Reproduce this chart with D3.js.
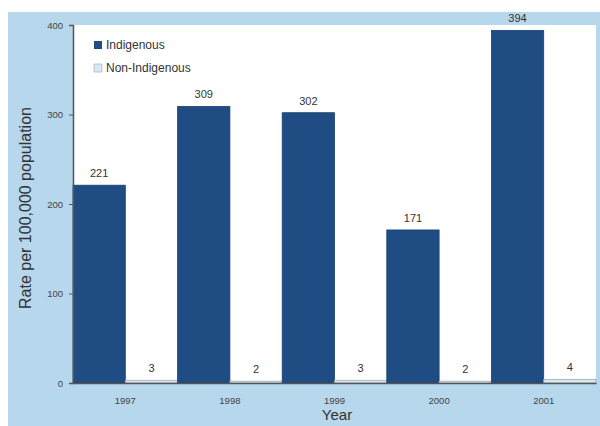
<!DOCTYPE html>
<html><head><meta charset="utf-8">
<script src="https://cdn.jsdelivr.net/npm/d3@7"></script>
<style>body{margin:0;background:#fff}svg{display:block}</style>
</head><body>
<script>
const years = ["1997","1998","1999","2000","2001"];
const seriesNames = ["Indigenous","Non-Indigenous"];
const indigenous = [221,309,302,171,394];
const nonIndigenous = [3,2,3,2,4];
const yTicks = [0,100,200,300,400];

const W=600,H=426;
const svg=d3.select("body").append("svg").attr("width",W).attr("height",H);
svg.append("rect").attr("x",8).attr("y",12).attr("width",592).attr("height",414).attr("fill","#b6d7ec");
const m={l:73,t:25,r:596,b:383};
svg.append("rect").attr("x",m.l).attr("y",m.t).attr("width",m.r-m.l).attr("height",m.b-m.t).attr("fill","#ffffff");

const x=d3.scaleBand().domain(years).range([m.l,m.r]).padding(0);
const xs=d3.scaleBand().domain(seriesNames).range([0,x.bandwidth()]).padding(0);
const y=d3.scaleLinear().domain([0,400]).range([m.b,m.t]);
const colors={"Indigenous":"#1f4c82","Non-Indigenous":"#d6e8f2"};

const data=years.map((yr,i)=>({yr,vals:[{s:"Indigenous",v:indigenous[i]},{s:"Non-Indigenous",v:nonIndigenous[i]}]}));
const g=svg.append("g");
const grp=g.selectAll("g").data(data).join("g").attr("transform",d=>`translate(${x(d.yr)},0)`);
grp.selectAll("rect").data(d=>d.vals).join("rect")
  .attr("x",d=>xs(d.s)).attr("width",xs.bandwidth())
  .attr("y",d=>y(d.v)).attr("height",d=>y(0)-y(d.v))
  .attr("fill",d=>colors[d.s]).attr("stroke",d=>d.s==="Indigenous"?"#1a416f":"#9aa9b5").attr("stroke-width",0.8);
grp.selectAll("text").data(d=>d.vals).join("text")
  .attr("x",d=>xs(d.s)+xs.bandwidth()/2)
  .attr("y",d=>d.s==="Indigenous"?y(d.v)-8:y(d.v)-8)
  .attr("text-anchor","middle").attr("font-family","Liberation Sans, Arial, sans-serif")
  .attr("font-size",11).attr("fill","#333").text(d=>d.v);

// axes
const ya=svg.append("g").attr("transform",`translate(${m.l},0)`)
  .call(d3.axisLeft(y).tickValues(yTicks).tickSize(4).tickPadding(6));
ya.select(".domain").attr("stroke","#555").attr("stroke-width",1.5);
ya.selectAll(".tick line").attr("stroke","#555");
ya.selectAll("text").attr("font-family","Liberation Sans, Arial, sans-serif").attr("font-size",9.5).attr("fill","#444");
const xa=svg.append("g").attr("transform",`translate(0,${m.b})`)
  .call(d3.axisBottom(x).tickSize(0).tickPadding(14));
xa.select(".domain").attr("stroke","#555").attr("stroke-width",1.5);
xa.selectAll("text").attr("font-family","Liberation Sans, Arial, sans-serif").attr("font-size",9.5).attr("fill","#444");
svg.append("text").attr("x",337).attr("y",420).attr("text-anchor","middle")
  .attr("font-family","Liberation Sans, Arial, sans-serif").attr("font-size",15).attr("fill","#333").text("Year");
svg.append("text").attr("transform","translate(31,208) rotate(-90)").attr("text-anchor","middle")
  .attr("font-family","Liberation Sans, Arial, sans-serif").attr("font-size",16).attr("fill","#333").text("Rate per 100,000 population");

// legend
const lg=svg.append("g");
seriesNames.forEach((s,i)=>{
  lg.append("rect").attr("x",94).attr("y",41+i*23).attr("width",8).attr("height",8)
    .attr("fill",colors[s]).attr("stroke",i?"#9aa9b5":"none").attr("stroke-width",0.6);
  lg.append("text").attr("x",106).attr("y",49+i*23).attr("font-family","Liberation Sans, Arial, sans-serif")
    .attr("font-size",12).attr("fill","#333").text(s);
});
</script>
</body></html>
